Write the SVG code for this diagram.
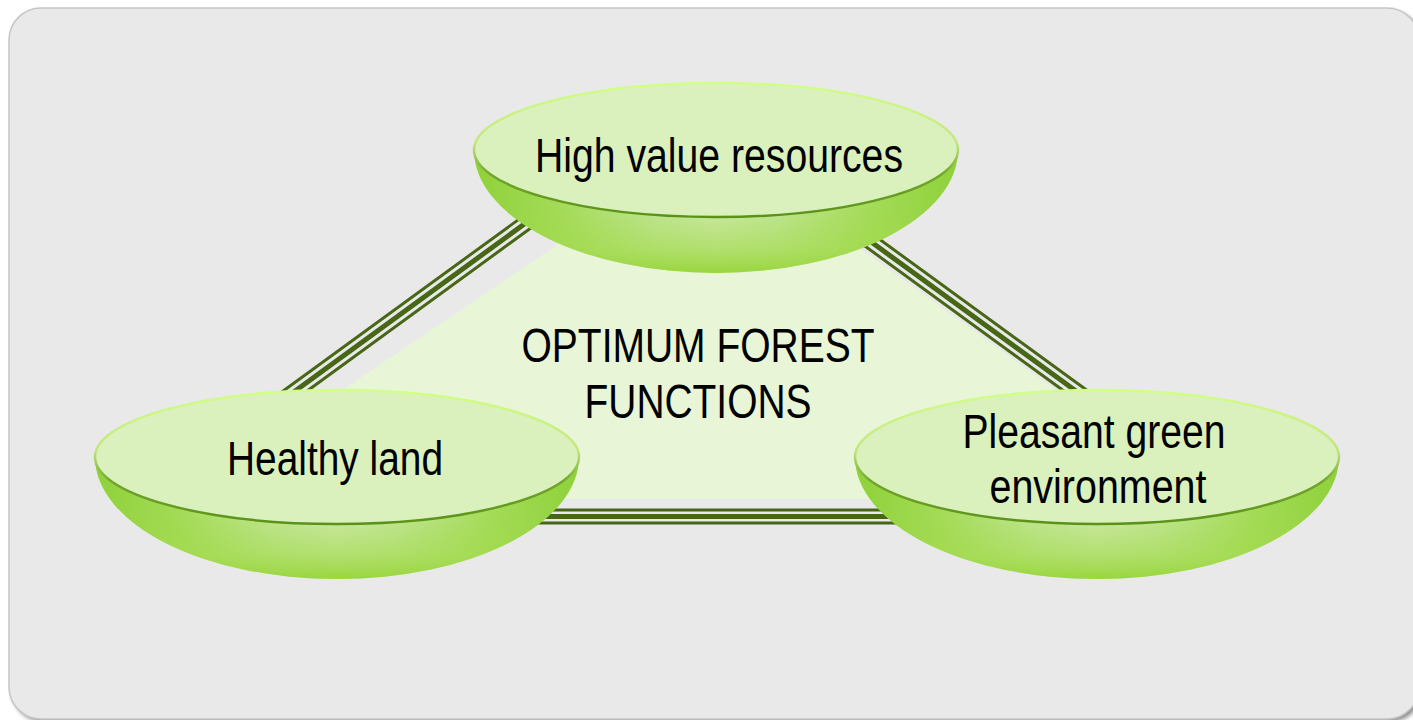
<svg xmlns="http://www.w3.org/2000/svg" width="1413" height="720" viewBox="0 0 1413 720">
  <defs>
    <!-- side-to-side shading of each bowl -->
    <linearGradient id="bowlH" x1="0" y1="0" x2="1" y2="0">
      <stop offset="0" stop-color="#8fd13a"/>
      <stop offset="0.18" stop-color="#a4db58"/>
      <stop offset="0.38" stop-color="#c3e698"/>
      <stop offset="0.5" stop-color="#cde9a8"/>
      <stop offset="0.62" stop-color="#c3e698"/>
      <stop offset="0.82" stop-color="#a4db58"/>
      <stop offset="1" stop-color="#8fd13a"/>
    </linearGradient>
    <!-- deeper green towards the bottom of each bowl -->
    <linearGradient id="bowlV" x1="0" y1="0" x2="0" y2="1">
      <stop offset="0" stop-color="#9ed846" stop-opacity="0"/>
      <stop offset="0.45" stop-color="#9ed846" stop-opacity="0"/>
      <stop offset="0.8" stop-color="#a2da4a" stop-opacity="0.6"/>
      <stop offset="1" stop-color="#98d63e" stop-opacity="1"/>
    </linearGradient>
    <!-- lid rim: lime on top, dark green on the lower edge -->
    <linearGradient id="rim" x1="0" y1="0" x2="0" y2="1">
      <stop offset="0" stop-color="#d2ff88"/>
      <stop offset="0.45" stop-color="#c2e67e"/>
      <stop offset="0.68" stop-color="#72a62c"/>
      <stop offset="1" stop-color="#5a9218"/>
    </linearGradient>
    <filter id="soft" x="-5%" y="-5%" width="110%" height="110%">
      <feGaussianBlur stdDeviation="2"/>
    </filter>
    <style>
      .bowl { fill: url(#bowlH); }
      .bowlShade { fill: url(#bowlV); }
      .lid { fill: #dbf1bd; stroke: url(#rim); stroke-width: 2.5; }
      .label { font-family: "Liberation Sans", Arial, sans-serif; font-size: 48px; fill: #000; text-anchor: middle; }
      .thick { stroke: #476717; stroke-width: 5; fill: none; }
      .thin { stroke: #476717; stroke-width: 3; fill: none; }
    </style>
  </defs>

  <!-- panel -->
  <rect x="12" y="11" width="1410" height="711" rx="32" fill="#8c8c8c" filter="url(#soft)"/>
  <rect x="9" y="8" width="1410" height="711" rx="32" fill="#e9e9e9" stroke="#c6c6c6" stroke-width="1.5"/>

  <!-- central triangle -->
  <polygon id="center-area" points="711,141 181,499 1207,499" fill="#e8f5d6"/>

  <!-- triple-line connectors -->
  <g id="connectors">
    <g id="link-left">
      <line class="thin" x1="275.9" y1="396.3" x2="540.9" y2="203.3"/>
      <line class="thick" x1="280" y1="402" x2="545" y2="209"/>
      <line class="thin" x1="284.1" y1="407.7" x2="549.1" y2="214.7"/>
    </g>
    <g id="link-right">
      <line class="thin" x1="1095.1" y1="396.3" x2="830.1" y2="203.3"/>
      <line class="thick" x1="1091" y1="402" x2="826" y2="209"/>
      <line class="thin" x1="1086.9" y1="407.7" x2="821.9" y2="214.7"/>
    </g>
    <g id="link-bottom">
      <line class="thin" x1="520" y1="510" x2="920" y2="510"/>
      <line class="thick" x1="520" y1="516.5" x2="920" y2="516.5"/>
      <line class="thin" x1="520" y1="523" x2="920" y2="523"/>
    </g>
  </g>

  <!-- centre caption -->
  <g id="caption">
    <text class="label" x="698" y="362" textLength="353" lengthAdjust="spacingAndGlyphs">OPTIMUM FOREST</text>
    <text class="label" x="698" y="418" textLength="227" lengthAdjust="spacingAndGlyphs">FUNCTIONS</text>
  </g>

  <!-- top node -->
  <g id="node-resources">
    <path class="bowl" d="M474,150 A242,123 0 0 0 958,150 Z"/>
    <path class="bowlShade" d="M474,150 A242,123 0 0 0 958,150 Z"/>
    <ellipse class="lid" cx="716" cy="150" rx="242" ry="67"/>
    <text class="label" x="719" y="172" textLength="368" lengthAdjust="spacingAndGlyphs">High value resources</text>
  </g>

  <!-- left node -->
  <g id="node-land">
    <path class="bowl" d="M95,457 A242,122 0 0 0 579,457 Z"/>
    <path class="bowlShade" d="M95,457 A242,122 0 0 0 579,457 Z"/>
    <ellipse class="lid" cx="337" cy="457" rx="242" ry="67"/>
    <text class="label" x="335" y="475" textLength="216" lengthAdjust="spacingAndGlyphs">Healthy land</text>
  </g>

  <!-- right node -->
  <g id="node-environment">
    <path class="bowl" d="M855,457 A242,122 0 0 0 1339,457 Z"/>
    <path class="bowlShade" d="M855,457 A242,122 0 0 0 1339,457 Z"/>
    <ellipse class="lid" cx="1097" cy="457" rx="242" ry="67"/>
    <text class="label" x="1094" y="448" textLength="263" lengthAdjust="spacingAndGlyphs">Pleasant green</text>
    <text class="label" x="1098" y="503" textLength="217" lengthAdjust="spacingAndGlyphs">environment</text>
  </g>
</svg>
